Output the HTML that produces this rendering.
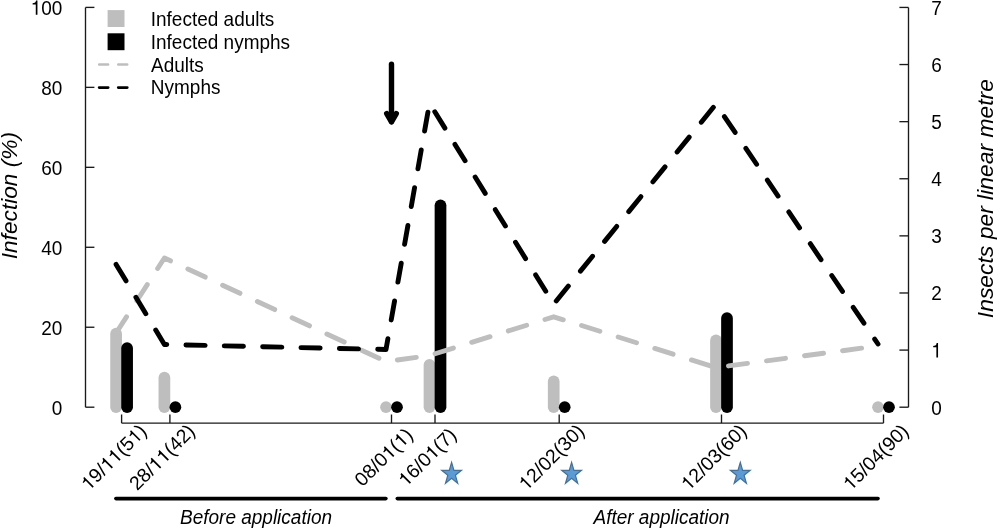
<!DOCTYPE html><html><head><meta charset="utf-8"><style>html,body{margin:0;padding:0;background:#fff;width:997px;height:528px;overflow:hidden}svg{display:block;will-change:transform}</style></head><body><svg width="997" height="528" viewBox="0 0 997 528">
<rect width="997" height="528" fill="#fff"/>
<line x1="116.10" y1="407.2" x2="116.10" y2="333.64" stroke="#bebebe" stroke-width="11.7" stroke-linecap="round"/>
<line x1="164.40" y1="407.2" x2="164.40" y2="377.61" stroke="#bebebe" stroke-width="11.7" stroke-linecap="round"/>
<line x1="386.00" y1="407.2" x2="386.00" y2="407.20" stroke="#bebebe" stroke-width="11.7" stroke-linecap="round"/>
<line x1="429.50" y1="407.2" x2="429.50" y2="364.82" stroke="#bebebe" stroke-width="11.7" stroke-linecap="round"/>
<line x1="553.70" y1="407.2" x2="553.70" y2="381.41" stroke="#bebebe" stroke-width="11.7" stroke-linecap="round"/>
<line x1="716.00" y1="407.2" x2="716.00" y2="340.43" stroke="#bebebe" stroke-width="11.7" stroke-linecap="round"/>
<line x1="878.00" y1="407.2" x2="878.00" y2="407.20" stroke="#bebebe" stroke-width="11.7" stroke-linecap="round"/>
<line x1="127.10" y1="407.2" x2="127.10" y2="348.03" stroke="#000" stroke-width="11.7" stroke-linecap="round"/>
<line x1="175.40" y1="407.2" x2="175.40" y2="407.20" stroke="#000" stroke-width="11.7" stroke-linecap="round"/>
<line x1="397.00" y1="407.2" x2="397.00" y2="407.20" stroke="#000" stroke-width="11.7" stroke-linecap="round"/>
<line x1="440.50" y1="407.2" x2="440.50" y2="205.30" stroke="#000" stroke-width="11.7" stroke-linecap="round"/>
<line x1="564.70" y1="407.2" x2="564.70" y2="407.20" stroke="#000" stroke-width="11.7" stroke-linecap="round"/>
<line x1="727.00" y1="407.2" x2="727.00" y2="318.04" stroke="#000" stroke-width="11.7" stroke-linecap="round"/>
<line x1="889.00" y1="407.2" x2="889.00" y2="407.20" stroke="#000" stroke-width="11.7" stroke-linecap="round"/>
<polyline points="116.10,333.00 164.40,258.00 386.00,361.60 429.50,355.50 553.70,316.80 716.00,367.60 878.00,346.00" fill="none" stroke="#bebebe" stroke-width="4.9" stroke-dasharray="19.2 19.16" stroke-linecap="round" stroke-linejoin="round"/>
<polyline points="116.10,264.40 164.40,344.50 386.00,349.50 429.50,103.20 553.70,304.10 716.00,104.10 878.00,344.00" fill="none" stroke="#000" stroke-width="4.9" stroke-dasharray="19.2 19.16" stroke-linecap="round" stroke-linejoin="round"/>
<g stroke="#000" stroke-width="5.4" stroke-linecap="round" stroke-linejoin="round" fill="none"><line x1="391.5" y1="64.3" x2="391.5" y2="121.5"/><polyline points="386.7,113.6 391.5,121.8 396.3,113.6"/></g>
<g stroke="#1a1a1a" stroke-width="1.35" fill="none">
<line x1="85.5" y1="7.4" x2="85.5" y2="407.2"/>
<line x1="85.5" y1="407.20" x2="94.4" y2="407.20"/>
<line x1="85.5" y1="327.24" x2="94.4" y2="327.24"/>
<line x1="85.5" y1="247.28" x2="94.4" y2="247.28"/>
<line x1="85.5" y1="167.32" x2="94.4" y2="167.32"/>
<line x1="85.5" y1="87.36" x2="94.4" y2="87.36"/>
<line x1="85.5" y1="7.40" x2="94.4" y2="7.40"/>
<line x1="908.5" y1="7.4" x2="908.5" y2="407.2"/>
<line x1="899.4" y1="407.20" x2="908.5" y2="407.20"/>
<line x1="899.4" y1="350.09" x2="908.5" y2="350.09"/>
<line x1="899.4" y1="292.98" x2="908.5" y2="292.98"/>
<line x1="899.4" y1="235.87" x2="908.5" y2="235.87"/>
<line x1="899.4" y1="178.76" x2="908.5" y2="178.76"/>
<line x1="899.4" y1="121.65" x2="908.5" y2="121.65"/>
<line x1="899.4" y1="64.54" x2="908.5" y2="64.54"/>
<line x1="899.4" y1="7.43" x2="908.5" y2="7.43"/>
<line x1="121.6" y1="423.1" x2="883.5" y2="423.1"/>
<line x1="121.6" y1="414.5" x2="121.6" y2="423.1"/>
<line x1="169.9" y1="414.5" x2="169.9" y2="423.1"/>
<line x1="391.5" y1="414.5" x2="391.5" y2="423.1"/>
<line x1="435.0" y1="414.5" x2="435.0" y2="423.1"/>
<line x1="559.2" y1="414.5" x2="559.2" y2="423.1"/>
<line x1="721.5" y1="414.5" x2="721.5" y2="423.1"/>
<line x1="883.5" y1="414.5" x2="883.5" y2="423.1"/>
</g>
<g font-family="Liberation Sans" font-size="19" fill="#000">
<g transform="translate(62.4,414.60) scale(1,1.1)"><text x="-10.567" y="0" style="font-kerning:none">0</text></g>
<g transform="translate(62.4,334.64) scale(1,1.1)"><text x="-21.134" y="0" style="font-kerning:none">20</text></g>
<g transform="translate(62.4,254.68) scale(1,1.1)"><text x="-21.134" y="0" style="font-kerning:none">40</text></g>
<g transform="translate(62.4,174.72) scale(1,1.1)"><text x="-21.134" y="0" style="font-kerning:none">60</text></g>
<g transform="translate(62.4,94.76) scale(1,1.1)"><text x="-21.134" y="0" style="font-kerning:none">80</text></g>
<g transform="translate(62.4,14.80) scale(1,1.1)"><text x="-31.701" y="0" style="font-kerning:none"> 00</text><path d="M355,688L355,0L267,0L267,494L100,494L100,553C190,560 245,583 268,636C274,652 278,670 280,688Z" transform="translate(-31.701,0) scale(0.0190,-0.0190)"/></g>
<g transform="translate(931.3,414.60) scale(1,1.1)"><text x="0.000" y="0" style="font-kerning:none">0</text></g>
<g transform="translate(931.3,357.49) scale(1,1.1)"><text x="0.000" y="0" style="font-kerning:none"> </text><path d="M355,688L355,0L267,0L267,494L100,494L100,553C190,560 245,583 268,636C274,652 278,670 280,688Z" transform="translate(0.000,0) scale(0.0190,-0.0190)"/></g>
<g transform="translate(931.3,300.38) scale(1,1.1)"><text x="0.000" y="0" style="font-kerning:none">2</text></g>
<g transform="translate(931.3,243.27) scale(1,1.1)"><text x="0.000" y="0" style="font-kerning:none">3</text></g>
<g transform="translate(931.3,186.16) scale(1,1.1)"><text x="0.000" y="0" style="font-kerning:none">4</text></g>
<g transform="translate(931.3,129.05) scale(1,1.1)"><text x="0.000" y="0" style="font-kerning:none">5</text></g>
<g transform="translate(931.3,71.94) scale(1,1.1)"><text x="0.000" y="0" style="font-kerning:none">6</text></g>
<g transform="translate(931.3,14.83) scale(1,1.1)"><text x="0.000" y="0" style="font-kerning:none">7</text></g>
</g>
<g font-family="Liberation Sans" font-size="19.5" fill="#000">
<g transform="translate(118.40,461.80) rotate(-45)"><text x="-41.737" y="0" style="font-kerning:none"> 9/  (5 )</text><path d="M355,688L355,0L267,0L267,494L100,494L100,553C190,560 245,583 268,636C274,652 278,670 280,688Z" transform="translate(-41.737,0) scale(0.0195,-0.0195)"/><path d="M355,688L355,0L267,0L267,494L100,494L100,553C190,560 245,583 268,636C274,652 278,670 280,688Z" transform="translate(-14.630,0) scale(0.0195,-0.0195)"/><path d="M355,688L355,0L267,0L267,494L100,494L100,553C190,560 245,583 268,636C274,652 278,670 280,688Z" transform="translate(-3.785,0) scale(0.0195,-0.0195)"/><path d="M355,688L355,0L267,0L267,494L100,494L100,553C190,560 245,583 268,636C274,652 278,670 280,688Z" transform="translate(24.399,0) scale(0.0195,-0.0195)"/></g>
<g transform="translate(166.70,461.80) rotate(-45)"><text x="-41.737" y="0" style="font-kerning:none">28/  (42)</text><path d="M355,688L355,0L267,0L267,494L100,494L100,553C190,560 245,583 268,636C274,652 278,670 280,688Z" transform="translate(-14.630,0) scale(0.0195,-0.0195)"/><path d="M355,688L355,0L267,0L267,494L100,494L100,553C190,560 245,583 268,636C274,652 278,670 280,688Z" transform="translate(-3.785,0) scale(0.0195,-0.0195)"/></g>
<g transform="translate(388.30,461.80) rotate(-45)"><text x="-36.315" y="0" style="font-kerning:none">08/0 ( )</text><path d="M355,688L355,0L267,0L267,494L100,494L100,553C190,560 245,583 268,636C274,652 278,670 280,688Z" transform="translate(1.638,0) scale(0.0195,-0.0195)"/><path d="M355,688L355,0L267,0L267,494L100,494L100,553C190,560 245,583 268,636C274,652 278,670 280,688Z" transform="translate(18.976,0) scale(0.0195,-0.0195)"/></g>
<g transform="translate(431.80,461.80) rotate(-45)"><text x="-36.315" y="0" style="font-kerning:none"> 6/0 (7)</text><path d="M355,688L355,0L267,0L267,494L100,494L100,553C190,560 245,583 268,636C274,652 278,670 280,688Z" transform="translate(-36.315,0) scale(0.0195,-0.0195)"/><path d="M355,688L355,0L267,0L267,494L100,494L100,553C190,560 245,583 268,636C274,652 278,670 280,688Z" transform="translate(1.638,0) scale(0.0195,-0.0195)"/></g>
<g transform="translate(556.00,461.80) rotate(-45)"><text x="-41.737" y="0" style="font-kerning:none"> 2/02(30)</text><path d="M355,688L355,0L267,0L267,494L100,494L100,553C190,560 245,583 268,636C274,652 278,670 280,688Z" transform="translate(-41.737,0) scale(0.0195,-0.0195)"/></g>
<g transform="translate(718.30,461.80) rotate(-45)"><text x="-41.737" y="0" style="font-kerning:none"> 2/03(60)</text><path d="M355,688L355,0L267,0L267,494L100,494L100,553C190,560 245,583 268,636C274,652 278,670 280,688Z" transform="translate(-41.737,0) scale(0.0195,-0.0195)"/></g>
<g transform="translate(880.30,461.80) rotate(-45)"><text x="-41.737" y="0" style="font-kerning:none"> 5/04(90)</text><path d="M355,688L355,0L267,0L267,494L100,494L100,553C190,560 245,583 268,636C274,652 278,670 280,688Z" transform="translate(-41.737,0) scale(0.0195,-0.0195)"/></g>
</g>
<polygon points="451.60,462.30 453.94,470.32 461.49,470.32 455.38,475.27 457.71,483.28 451.60,478.33 445.49,483.28 447.82,475.27 441.71,470.32 449.26,470.32" fill="#5b9bd5" stroke="#41719c" stroke-width="1.2" stroke-linejoin="miter"/>
<polygon points="571.60,462.30 573.94,470.32 581.49,470.32 575.38,475.27 577.71,483.28 571.60,478.33 565.49,483.28 567.82,475.27 561.71,470.32 569.26,470.32" fill="#5b9bd5" stroke="#41719c" stroke-width="1.2" stroke-linejoin="miter"/>
<polygon points="740.30,462.30 742.64,470.32 750.19,470.32 744.08,475.27 746.41,483.28 740.30,478.33 734.19,483.28 736.52,475.27 730.41,470.32 737.96,470.32" fill="#5b9bd5" stroke="#41719c" stroke-width="1.2" stroke-linejoin="miter"/>
<g stroke="#000" stroke-width="3.6" stroke-linecap="round"><line x1="115.9" y1="498.6" x2="385.9" y2="498.6"/><line x1="397.3" y1="498.6" x2="878.0" y2="498.6"/></g>
<g font-family="Liberation Sans" font-size="19" font-style="italic" fill="#000"><text x="0" y="0" transform="translate(180,523.6) scale(1,1.09)">Before application</text><text x="0" y="0" transform="translate(593.5,523.6) scale(1,1.09)">After application</text></g>
<g font-family="Liberation Sans" font-size="22.7" font-style="italic" fill="#000"><text x="0" y="0" transform="translate(17.4,259.3) rotate(-90)">Infection (%)</text><text x="0" y="0" font-size="22.9" transform="translate(992.7,318.2) rotate(-90)">Insects per linear metre</text></g>
<rect x="107.6" y="10.1" width="16.9" height="16.9" fill="#bebebe"/>
<rect x="107.6" y="33.3" width="16.9" height="16.9" fill="#000"/>
<line x1="99.2" y1="64.5" x2="127.4" y2="64.5" stroke="#bebebe" stroke-width="2.6" stroke-dasharray="8.9 10.2" stroke-linecap="round"/>
<line x1="99.2" y1="87.6" x2="127.4" y2="87.6" stroke="#000" stroke-width="2.9" stroke-dasharray="8.9 10.2" stroke-linecap="round"/>
<g font-family="Liberation Sans" font-size="19" fill="#000">
<text x="0" y="0" transform="translate(150.7,25.6) scale(1,1.1)">Infected adults</text>
<text x="0" y="0" transform="translate(150.7,48.5) scale(1,1.1)">Infected nymphs</text>
<text x="0" y="0" transform="translate(151.0,71.5) scale(1,1.1)">Adults</text>
<text x="0" y="0" transform="translate(150.8,94.4) scale(1,1.1)">Nymphs</text>
</g>
</svg></body></html>
